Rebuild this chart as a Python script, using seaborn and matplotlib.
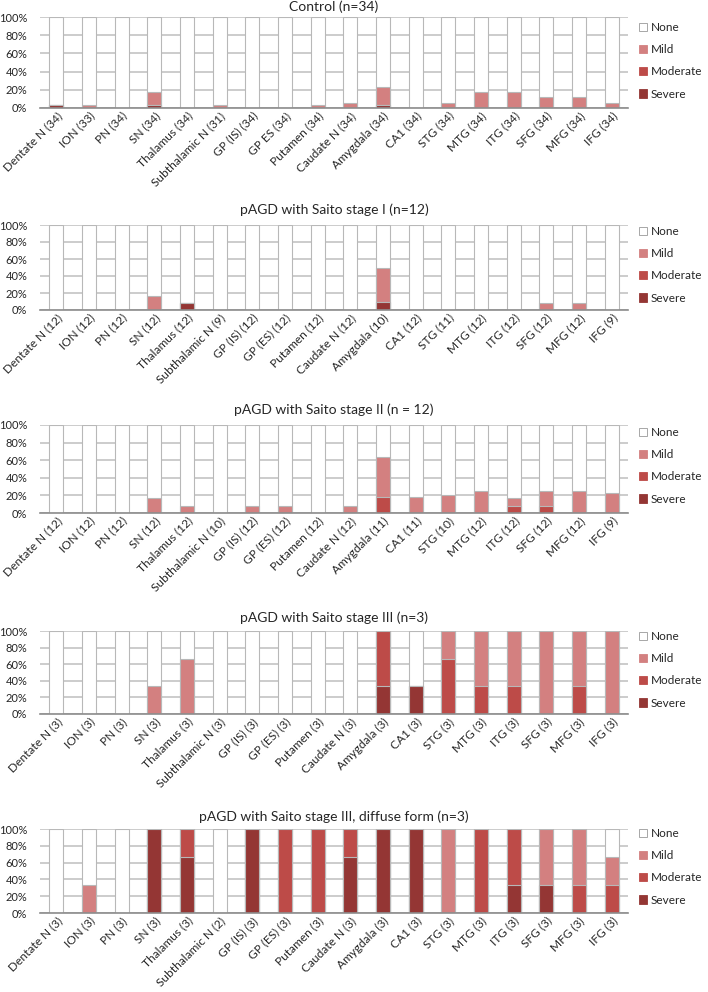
from matplotlib import pyplot as plt
from matplotlib.patches import Patch
import seaborn as sns
import pandas as pd

# panel titles
titles = [
    "Control (n=34)",
    "pAGD with Saito stage I (n=12)",
    "pAGD with Saito stage II (n = 12)",
    "pAGD with Saito stage III (n=3)",
    "pAGD with Saito stage III, diffuse form (n=3)",
]

control_labels = ["Dentate N (34)", "ION (33)", "PN (34)", "SN (34)", "Thalamus (34)",
                  "Subthalamic N (31)", "GP (IS) (34)", "GP ES (34)", "Putamen (34)",
                  "Caudate N (34)", "Amygdala (34)", "CA1 (34)", "STG (34)", "MTG (34)",
                  "ITG (34)", "SFG (34)", "MFG (34)", "IFG (34)"]
control_severe = [2.9, 0, 0, 2.9, 0, 0, 0, 0, 0, 0, 2.9, 0, 0, 0, 0, 0, 0, 0]
control_moderate = [0, 0, 0, 0, 0, 0, 0, 0, 0, 0, 0, 0, 0, 0, 0, 0, 0, 0]
control_mild = [0, 3.0, 0, 14.7, 0, 3.2, 0, 0, 2.9, 5.9, 20.6, 0, 5.9, 17.6, 17.6, 11.8, 11.8, 5.9]

stage1_labels = ["Dentate N (12)", "ION (12)", "PN (12)", "SN (12)", "Thalamus (12)",
                 "Subthalamic N (9)", "GP (IS) (12)", "GP (ES) (12)", "Putamen (12)",
                 "Caudate N (12)", "Amygdala (10)", "CA1 (12)", "STG (11)", "MTG (12)",
                 "ITG (12)", "SFG (12)", "MFG (12)", "IFG (9)"]
stage1_severe = [0, 0, 0, 0, 8.3, 0, 0, 0, 0, 0, 10, 0, 0, 0, 0, 0, 0, 0]
stage1_moderate = [0, 0, 0, 0, 0, 0, 0, 0, 0, 0, 0, 0, 0, 0, 0, 0, 0, 0]
stage1_mild = [0, 0, 0, 16.7, 0, 0, 0, 0, 0, 0, 40, 0, 0, 0, 0, 8.3, 8.3, 0]

stage2_labels = ["Dentate N (12)", "ION (12)", "PN (12)", "SN (12)", "Thalamus (12)",
                 "Subthalamic N (10)", "GP (IS) (12)", "GP (ES) (12)", "Putamen (12)",
                 "Caudate N (12)", "Amygdala (11)", "CA1 (11)", "STG (10)", "MTG (12)",
                 "ITG (12)", "SFG (12)", "MFG (12)", "IFG (9)"]
stage2_severe = [0, 0, 0, 0, 0, 0, 0, 0, 0, 0, 0, 0, 0, 0, 0, 0, 0, 0]
stage2_moderate = [0, 0, 0, 0, 0, 0, 0, 0, 0, 0, 18.2, 0, 0, 0, 8.3, 8.3, 0, 0]
stage2_mild = [0, 0, 0, 16.7, 8.3, 0, 8.3, 8.3, 0, 8.3, 45.5, 18.2, 20, 25, 8.3, 16.7, 25, 22.2]

stage3_labels = ["Dentate N (3)", "ION (3)", "PN (3)", "SN (3)", "Thalamus (3)",
                 "Subthalamic N (3)", "GP (IS) (3)", "GP (ES) (3)", "Putamen (3)",
                 "Caudate N (3)", "Amygdala (3)", "CA1 (3)", "STG (3)", "MTG (3)",
                 "ITG (3)", "SFG (3)", "MFG (3)", "IFG (3)"]
stage3_severe = [0, 0, 0, 0, 0, 0, 0, 0, 0, 0, 33.3, 33.3, 0, 0, 0, 0, 0, 0]
stage3_moderate = [0, 0, 0, 0, 0, 0, 0, 0, 0, 0, 66.7, 0, 66.7, 33.3, 33.3, 0, 33.3, 0]
stage3_mild = [0, 0, 0, 33.3, 66.7, 0, 0, 0, 0, 0, 0, 0, 33.3, 66.7, 66.7, 100, 66.7, 100]

diffuse_labels = ["Dentate N (3)", "ION (3)", "PN (3)", "SN (3)", "Thalamus (3)",
                  "Subthalamic N (2)", "GP (IS) (3)", "GP (ES) (3)", "Putamen (3)",
                  "Caudate N (3)", "Amygdala (3)", "CA1 (3)", "STG (3)", "MTG (3)",
                  "ITG (3)", "SFG (3)", "MFG (3)", "IFG (3)"]
diffuse_severe = [0, 0, 0, 100, 66.7, 0, 100, 0, 0, 66.7, 100, 100, 0, 0, 33.3, 33.3, 0, 0]
diffuse_moderate = [0, 0, 0, 0, 33.3, 0, 0, 100, 100, 33.3, 0, 0, 0, 100, 66.7, 0, 33.3, 33.3]
diffuse_mild = [0, 33.3, 0, 0, 0, 0, 0, 0, 0, 0, 0, 0, 100, 0, 0, 66.7, 66.7, 33.3]

panels = [
    (control_labels, control_severe, control_moderate, control_mild),
    (stage1_labels, stage1_severe, stage1_moderate, stage1_mild),
    (stage2_labels, stage2_severe, stage2_moderate, stage2_mild),
    (stage3_labels, stage3_severe, stage3_moderate, stage3_mild),
    (diffuse_labels, diffuse_severe, diffuse_moderate, diffuse_mild),
]

colors = {"None": "#ffffff", "Mild": "#d38080", "Moderate": "#bd4b48", "Severe": "#943634"}
edge = "#b8b8b8"

sns.set_style("white")
plt.rcParams["font.family"] = ["Lato", "DejaVu Sans"]

W, H = 708, 992
fig = plt.figure(figsize=(W / 100, H / 100), dpi=100)

# plot area top, bottom, title y, first legend entry y (pixels)
boxes = [(17, 108, 7, 29), (225, 310, 210, 233), (425, 513, 410, 434),
         (631, 714, 618, 638), (829, 913, 817, 835)]
left, right = 40, 628

for (labels, sev, mod, mild), (top, bot, ty, ly), title in zip(panels, boxes, titles):
    ax = fig.add_axes([left / W, 1 - bot / H, (right - left) / W, (bot - top) / H])
    df = pd.DataFrame({"region": labels, "severe": sev, "moderate": mod, "mild": mild})
    df["none_top"] = 100
    df["mild_top"] = df["severe"] + df["moderate"] + df["mild"]
    df["mod_top"] = df["severe"] + df["moderate"]
    df["sev_top"] = df["severe"]

    for col, key in [("none_top", "None"), ("mild_top", "Mild"),
                     ("mod_top", "Moderate"), ("sev_top", "Severe")]:
        sns.barplot(data=df, x="region", y=col, color=colors[key], width=0.42,
                    edgecolor=edge, linewidth=0.8, saturation=1, ax=ax, zorder=2)

    ax.set_xlim(-0.5, len(labels) - 0.5)
    ax.set_ylim(0, 100)
    ax.set_yticks([0, 20, 40, 60, 80, 100])
    ax.set_yticklabels([f"{v}%" for v in [0, 20, 40, 60, 80, 100]])
    ax.yaxis.grid(True, color="#c4c4c4", linewidth=1.2, zorder=0)
    ax.set_axisbelow(True)
    for s in ["top", "right", "left"]:
        ax.spines[s].set_visible(False)
    ax.spines["bottom"].set_color("#8c8c8c")
    ax.spines["bottom"].set_linewidth(1.2)
    ax.tick_params(axis="y", length=4, color="#c4c4c4", labelsize=8, pad=5)
    ax.tick_params(axis="x", length=0, labelsize=8.6, pad=1.5)
    ax.set_xticks(range(len(labels)))
    ax.set_xticklabels(labels, rotation=45, ha="right", rotation_mode="anchor")
    ax.set_xlabel("")
    ax.set_ylabel("")
    fig.text((left + right) / 2 / W, 1 - ty / H, title, ha="center", va="center", fontsize=10)

    handles = [Patch(facecolor=colors[k], edgecolor="#999999" if k == "None" else colors[k],
                     linewidth=0.6, label=k) for k in ["None", "Mild", "Moderate", "Severe"]]
    fig.legend(handles=handles, loc="upper left", bbox_to_anchor=(639 / W, 1 - (ly - 7) / H),
               frameon=False, fontsize=8.5, handlelength=0.7, handleheight=0.7,
               handletextpad=0.3, labelspacing=0.95, borderaxespad=0, borderpad=0)

plt.savefig("out.png", dpi=100)
